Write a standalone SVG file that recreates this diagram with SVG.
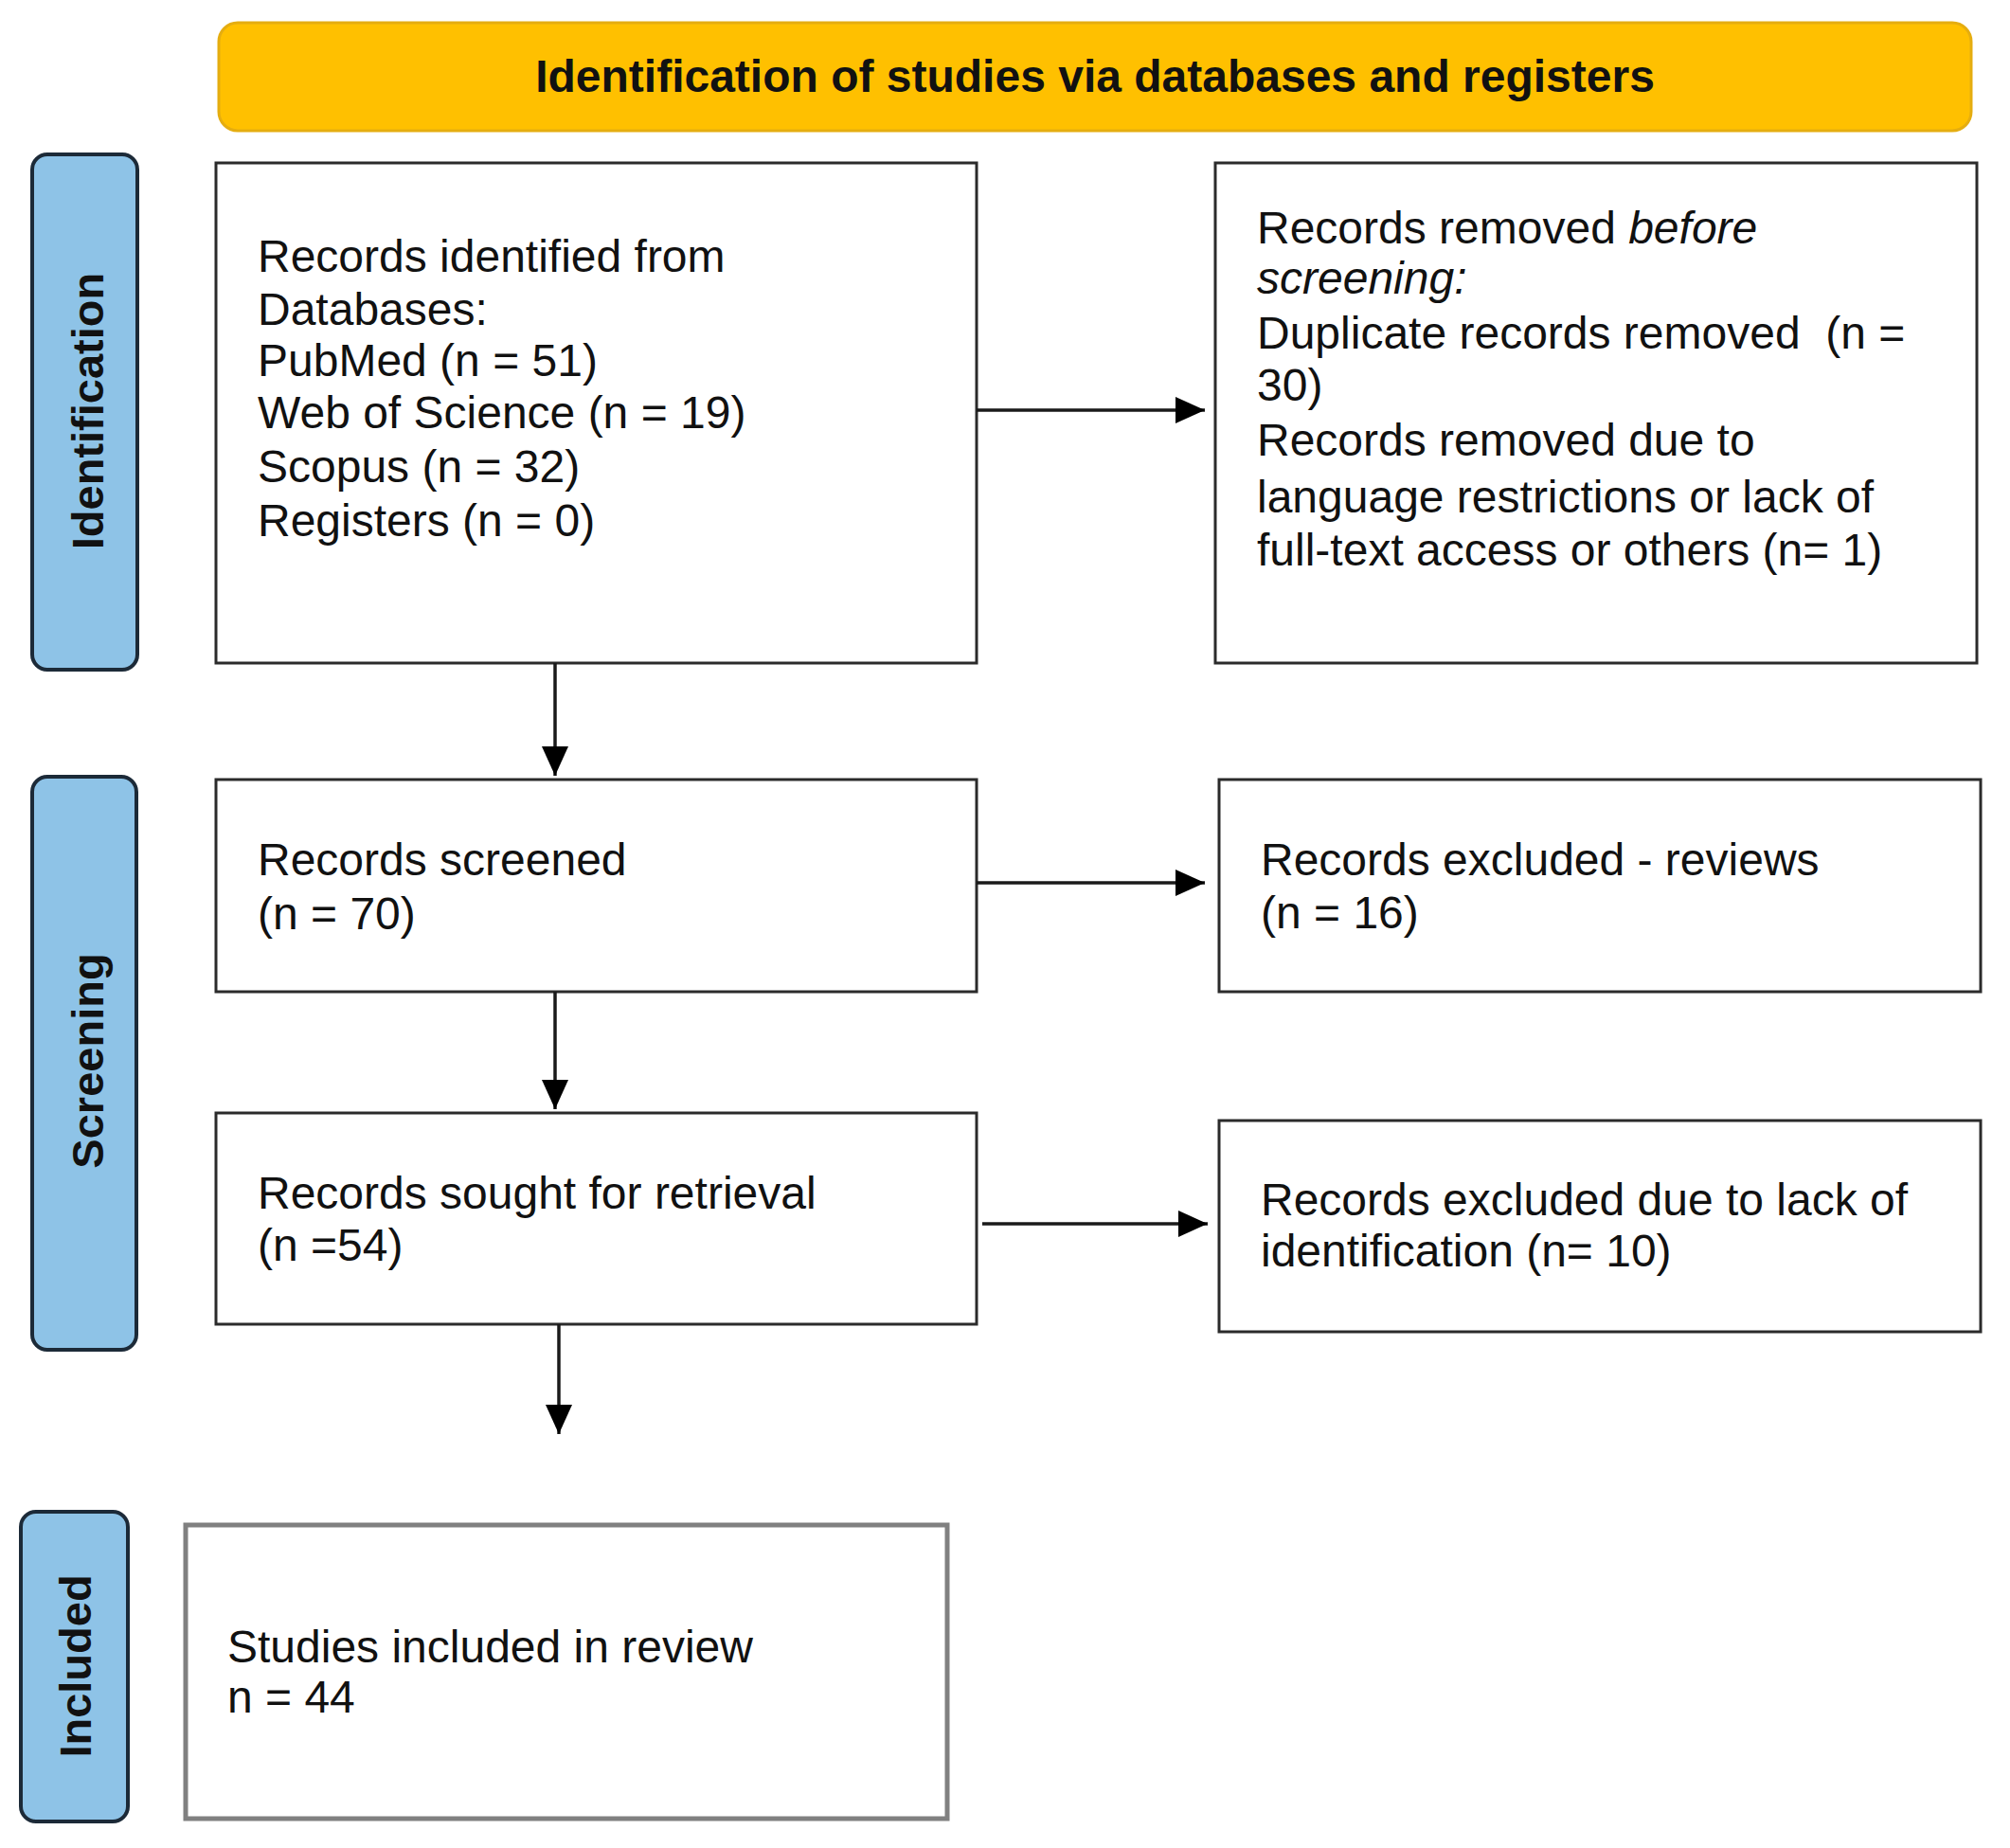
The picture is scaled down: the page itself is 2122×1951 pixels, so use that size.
<svg xmlns="http://www.w3.org/2000/svg" width="2122" height="1951" viewBox="0 0 2122 1951">
<style>
.box{fill:#ffffff;stroke:#2b2b2b;stroke-width:3}
.side{fill:#8EC3E7;stroke:#1c2a38;stroke-width:4}
.t{font-family:"Liberation Sans",Arial,sans-serif;font-size:48px;fill:#111111}
.sl{font-family:"Liberation Sans",Arial,sans-serif;font-size:47px;font-weight:bold;fill:#111111;text-anchor:middle;dominant-baseline:central}
.con{stroke:#1a1a1a;stroke-width:3.5;fill:none}
</style>
<defs>
<marker id="ah" markerUnits="userSpaceOnUse" markerWidth="32" markerHeight="30" refX="31" refY="15" orient="auto">
<path d="M0,1 L31,15 L0,29 z" fill="#000000"/>
</marker>
</defs>
<g id="banner">
<rect x="231" y="24" width="1850" height="114" rx="20" fill="#FFC000" stroke="#E5AD10" stroke-width="3"/>
<text x="1156" y="97" text-anchor="middle" font-family="Liberation Sans, Arial, sans-serif" font-size="48" font-weight="bold" fill="#111111">Identification of studies via databases and registers</text>
</g>
<g id="label-identification">
<rect class="side" x="34" y="163" width="111" height="544" rx="16"/>
<text class="sl" transform="translate(92,434) rotate(-90)">Identification</text>
</g>
<g id="label-screening">
<rect class="side" x="34" y="820" width="110" height="605" rx="16"/>
<text class="sl" transform="translate(92,1120) rotate(-90)">Screening</text>
</g>
<g id="label-included">
<rect class="side" x="22" y="1596" width="113" height="327" rx="16"/>
<text class="sl" transform="translate(79,1759) rotate(-90)">Included</text>
</g>
<g id="box-identified">
<rect class="box" x="228" y="172" width="803" height="528"/>
<text class="t" x="272" y="287">Records identified from</text>
<text class="t" x="272" y="343">Databases:</text>
<text class="t" x="272" y="397">PubMed (n = 51)</text>
<text class="t" x="272" y="452">Web of Science (n = 19)</text>
<text class="t" x="272" y="509">Scopus (n = 32)</text>
<text class="t" x="272" y="566">Registers (n = 0)</text>
</g>
<g id="box-removed">
<rect class="box" x="1283" y="172" width="804" height="528"/>
<text class="t" x="1327" y="257">Records removed <tspan font-style="italic">before</tspan></text>
<text class="t" x="1327" y="310" font-style="italic">screening:</text>
<text class="t" x="1327" y="368" xml:space="preserve">Duplicate records removed  (n =</text>
<text class="t" x="1327" y="423">30)</text>
<text class="t" x="1327" y="481">Records removed due to</text>
<text class="t" x="1327" y="541">language restrictions or lack of</text>
<text class="t" x="1327" y="597">full-text access or others (n= 1)</text>
</g>
<g id="box-screened">
<rect class="box" x="228" y="823" width="803" height="224"/>
<text class="t" x="272" y="924">Records screened</text>
<text class="t" x="272" y="981">(n = 70)</text>
</g>
<g id="box-excluded-reviews">
<rect class="box" x="1287" y="823" width="804" height="224"/>
<text class="t" x="1331" y="924">Records excluded - reviews</text>
<text class="t" x="1331" y="980">(n = 16)</text>
</g>
<g id="box-sought">
<rect class="box" x="228" y="1175" width="803" height="223"/>
<text class="t" x="272" y="1276">Records sought for retrieval</text>
<text class="t" x="272" y="1331">(n =54)</text>
</g>
<g id="box-excluded-identification">
<rect class="box" x="1287" y="1183" width="804" height="223"/>
<text class="t" x="1331" y="1283">Records excluded due to lack of</text>
<text class="t" x="1331" y="1337">identification (n= 10)</text>
</g>
<g id="box-included">
<rect x="196" y="1610" width="804" height="310" fill="#ffffff" stroke="#808080" stroke-width="5"/>
<text class="t" x="240" y="1755">Studies included in review</text>
<text class="t" x="240" y="1808">n = 44</text>
</g>
<g id="connectors">
<line class="con" x1="1031" y1="433" x2="1272" y2="433" marker-end="url(#ah)"/>
<line class="con" x1="586" y1="700" x2="586" y2="819" marker-end="url(#ah)"/>
<line class="con" x1="1031" y1="932" x2="1272" y2="932" marker-end="url(#ah)"/>
<line class="con" x1="586" y1="1047" x2="586" y2="1171" marker-end="url(#ah)"/>
<line class="con" x1="1037" y1="1292" x2="1275" y2="1292" marker-end="url(#ah)"/>
<line class="con" x1="590" y1="1398" x2="590" y2="1514" marker-end="url(#ah)"/>
</g>
</svg>
